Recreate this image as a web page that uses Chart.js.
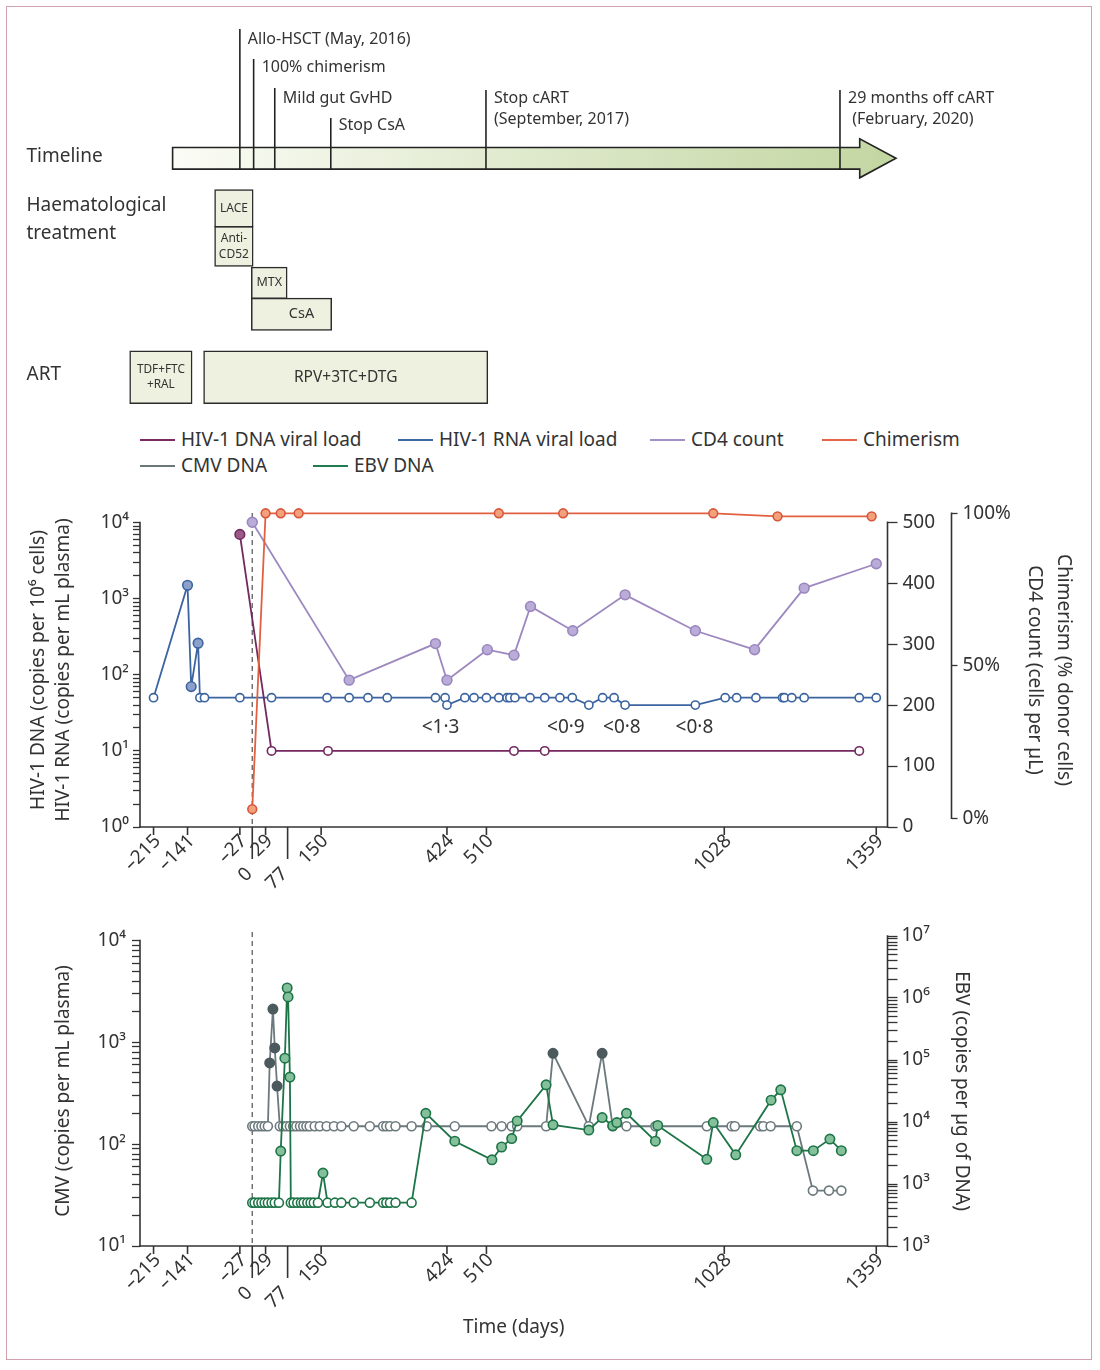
<!DOCTYPE html>
<html lang="en">
<head>
<meta charset="utf-8">
<title>HIV-1 case timeline</title>
<script src="https://cdn.jsdelivr.net/npm/chart.js@4.4.1/dist/chart.umd.min.js"></script>
<style>
  html, body { margin: 0; padding: 0; background: #fff; }
  body { position: relative; width: 1100px; height: 1370px; overflow: hidden;
         font-family: "Noto Sans", "DejaVu Sans", sans-serif; color: #333; }
  #frame { position: absolute; left: 6px; top: 6px; width: 1086px; height: 1354px;
           border: 1.5px solid #d3a0ae; box-sizing: border-box; }
  canvas { position: absolute; left: 0; }
  .key { position: absolute; font-size: 19px; line-height: 24px; white-space: nowrap; }
  .key i { display: inline-block; width: 35px; height: 2.5px; margin-right: 6px;
           vertical-align: middle; position: relative; top: -1px; }
</style>
</head>
<body>
<div id="frame"></div>
<canvas id="timeline" width="1100" height="420" style="top:0"></canvas>
<div id="legend"></div>
<canvas id="upper" width="1100" height="420" style="top:480px"></canvas>
<canvas id="lower" width="1100" height="470" style="top:900px"></canvas>
<script>
// ---- data (days relative to allo-HSCT) ----
const xTickDays = [-215, -141, -27, 0, 29, 77, 150, 424, 510, 1028, 1359];
const longTickDays = [0, 77];

const eventDays = [-27, 3, 49, 171, 509, 1280];
const eventLabels = [
  ['Allo-HSCT (May, 2016)'], ['100% chimerism'], ['Mild gut GvHD'], ['Stop CsA'],
  ['Stop cART', '(September, 2017)'], ['29 months off cART', ' (February, 2020)']
];
const treatmentNames = [['LACE'], ['Anti-', 'CD52'], ['MTX'], ['CsA'], ['TDF+FTC', '+RAL'], ['RPV+3TC+DTG']];
const treatmentStart = [-82, -82, -2, -2, -267, -106];
const treatmentEnd = [2, 2, 76, 173, -131, 513];

const seriesNames = ['HIV-1 DNA viral load', 'HIV-1 RNA viral load', 'CD4 count', 'Chimerism', 'CMV DNA', 'EBV DNA'];

const dnaDays = [-27, 42, 165, 570, 637, 1322];
const dnaValues = [7000, 10, 10, 10, 10, 10];
const dnaDetected = [1, 0, 0, 0, 0, 0];

const rnaDays = [-215, -141, -133, -118, -114, -104, -27, 42, 163, 211,
  252, 294, 399, 420, 424, 463, 483, 510, 537, 555,
  561, 572, 605, 637, 670, 697, 733, 763, 788, 812,
  965, 1030, 1055, 1097, 1155, 1159, 1175, 1202, 1322, 1359];
const rnaValues = [50, 1500, 70, 260, 50, 50, 50, 50, 50, 50,
  50, 50, 50, 50, 40, 50, 50, 50, 50, 50,
  50, 50, 50, 50, 50, 50, 40, 50, 50, 40,
  40, 50, 50, 50, 50, 50, 50, 50, 50, 50];
const rnaDetected = [0, 1, 1, 1, 0, 0, 0, 0, 0, 0,
  0, 0, 0, 0, 0, 0, 0, 0, 0, 0,
  0, 0, 0, 0, 0, 0, 0, 0, 0, 0,
  0, 0, 0, 0, 0, 0, 0, 0, 0, 0];
const rnaNoteDays = [410, 683, 805, 963];
const rnaNoteText = ['<1·3', '<0·9', '<0·8', '<0·8'];
const rnaNoteLevel = 20.4;

const cd4Days = [0, 211, 399, 424, 512, 570, 606, 698, 812, 965, 1094, 1202, 1359];
const cd4Values = [500, 241, 301, 241, 291, 282, 362, 322, 381, 322, 291, 392, 432];

const chimDays = [0, 29, 62, 101, 537, 677, 1004, 1144, 1349];
const chimValues = [3, 100, 100, 100, 100, 100, 100, 99, 99];

const cmvDays = [0, 5, 13, 20, 27, 34,
  38, 45, 49, 54,
  60, 67, 75, 82, 89, 96, 104, 111, 118, 125,
  136, 147, 162, 178, 194, 221, 256, 285, 292, 300,
  312, 347, 380, 441, 521, 543, 565, 577, 640,
  655, 733, 762,
  785, 815, 878, 990, 1044, 1051, 1106, 1113, 1129, 1186,
  1221, 1256, 1283];
const cmvValues = [150, 150, 150, 150, 150, 150,
  627, 2120, 880, 372,
  150, 150, 150, 150, 150, 150, 150, 150, 150, 150,
  150, 150, 150, 150, 150, 150, 150, 150, 150, 150,
  150, 150, 150, 150, 150, 150, 150, 150, 150,
  780, 150, 780,
  150, 150, 150, 150, 150, 150, 150, 150, 150, 150,
  35, 35, 35];
const cmvDetected = [0, 0, 0, 0, 0, 0,
  1, 1, 1, 1,
  0, 0, 0, 0, 0, 0, 0, 0, 0, 0,
  0, 0, 0, 0, 0, 0, 0, 0, 0, 0,
  0, 0, 0, 0, 0, 0, 0, 0, 0,
  1, 0, 1,
  0, 0, 0, 0, 0, 0, 0, 0, 0, 0,
  0, 0, 0];

const ebvDays = [0, 5, 13, 20, 27, 34, 42, 49, 58,
  62, 71, 76, 78, 82,
  84, 90, 98, 106, 112, 120, 127, 134, 143,
  154,
  164, 180, 194, 221, 256, 285, 292, 300, 312, 347,
  378, 441, 522, 543, 565, 577, 640, 655, 733, 762, 785, 794,
  815, 878, 883, 990, 1004, 1053, 1130, 1151, 1186, 1222, 1258, 1283];
const ebvValues = [500, 500, 500, 500, 500, 500, 500, 500, 500,
  3400, 107000, 1450000, 1040000, 53000,
  500, 500, 500, 500, 500, 500, 500, 500, 500,
  1500,
  500, 500, 500, 500, 500, 500, 500, 500, 500, 500,
  13800, 4900, 2450, 3950, 5400, 10400, 39700, 9000, 7400, 11800, 8700, 9800,
  13800, 4900, 8800, 2500, 9800, 2950, 22500, 33000, 3450, 3450, 5300, 3450];
const ebvDetected = [0, 0, 0, 0, 0, 0, 0, 0, 0,
  1, 1, 1, 1, 1,
  0, 0, 0, 0, 0, 0, 0, 0, 0,
  1,
  0, 0, 0, 0, 0, 0, 0, 0, 0, 0,
  1, 1, 1, 1, 1, 1, 1, 1, 1, 1, 1, 1,
  1, 1, 1, 1, 1, 1, 1, 1, 1, 1, 1, 1];

// tick labels by power of ten
const hivTickLabels = ['10⁰', '10¹', '10²', '10³', '10⁴'];
const cmvTickLabels = ['', '10¹', '10²', '10³', '10⁴'];
const ebvTickLabels = ['', '', '10³', '10³', '10⁴', '10⁵', '10⁶', '10⁷'];
const cd4Ticks = [0, 100, 200, 300, 400, 500];
const chimTicks = [0, 50, 100];

// ---- layout ----
const FONT = '"Noto Sans", "DejaVu Sans", sans-serif';
const INK = '#333';
const X_MIN = -244.5, X_MAX = 1383.5;
const PLOT_LEFT = 140, PLOT_RIGHT = 887.5, PAGE_W = 1100;

const arrowStartDay = -173.5, arrowNeckDay = 1323, arrowTipDay = 1402;
const eventLineTop = [29, 59, 88, 118, 90, 90];
const eventLabelY = [39, 67, 98, 125, 98, 98];
const rowHeadings = [['Timeline', 157], ['Haematological', 206], ['treatment', 234], ['ART', 375]];
const tlRowCenter = [208.4, 246.4, 282.8, 314.2, 377.2, 377.2];
const tlRowHeight = [37.4, 40, 31.5, 32.2, 52.8, 52.8];
const tlTextSize = [12, 12, 12.5, 14.5, 11.8, 15.5];
const tlTextShift = [0, 0, 0, 10, 0, 0];

const legendColors = ['#7a2c62', '#3f67a1', '#a290c6', '#e2654a', '#6b787b', '#1f7c4f'];
const legendLeft = [140, 398, 650, 822, 140, 313];
const legendTop = [427, 427, 427, 427, 453, 453];

Chart.defaults.font.family = FONT;
Chart.defaults.color = INK;
Chart.defaults.animation = false;

function decadeTicks(lo, hi) {
  const t = [];
  for (let e = lo; e < hi; e++) {
    for (let k = 1; k < 10; k++) t.push({ value: k * Math.pow(10, e) });
  }
  t.push({ value: Math.pow(10, hi) });
  return t;
}
function exactDecade(v) {
  const e = Math.log10(v), r = Math.round(e);
  return Math.abs(e - r) < 1e-6 ? r : null;
}
function tickText(d) {
  return d < 0 ? '–' + Math.abs(d) : String(d);
}

// ---- timeline ----
const timelinePlugin = {
  id: 'timelineArt',
  beforeDatasetsDraw(chart) {
    const { ctx, scales: { x } } = chart;
    const x0 = x.getPixelForValue(arrowStartDay);
    const x1 = x.getPixelForValue(arrowNeckDay);
    const x2 = x.getPixelForValue(arrowTipDay);
    const cy = 158.3, bh = 10.8, hh = 19.5;
    const grad = ctx.createLinearGradient(x0, 0, x2, 0);
    grad.addColorStop(0, '#fbfcf6');
    grad.addColorStop(1, '#c2d6a1');
    ctx.save();
    ctx.beginPath();
    ctx.moveTo(x0, cy - bh);
    ctx.lineTo(x1, cy - bh);
    ctx.lineTo(x1, cy - hh);
    ctx.lineTo(x2, cy);
    ctx.lineTo(x1, cy + hh);
    ctx.lineTo(x1, cy + bh);
    ctx.lineTo(x0, cy + bh);
    ctx.closePath();
    ctx.fillStyle = grad;
    ctx.fill();
    ctx.lineWidth = 1.6;
    ctx.strokeStyle = '#222';
    ctx.stroke();

    ctx.font = '16px ' + FONT;
    ctx.fillStyle = INK;
    ctx.textBaseline = 'middle';
    ctx.textAlign = 'left';
    eventDays.forEach((d, i) => {
      const px = x.getPixelForValue(d);
      ctx.beginPath();
      ctx.moveTo(px, eventLineTop[i]);
      ctx.lineTo(px, cy + bh);
      ctx.stroke();
      eventLabels[i].forEach((t, j) => ctx.fillText(t, px + 8, eventLabelY[i] + j * 21));
    });

    ctx.font = '19px ' + FONT;
    rowHeadings.forEach(([t, y]) => ctx.fillText(t, 26.5, y));
    ctx.restore();
  },
  afterDatasetsDraw(chart) {
    const ctx = chart.ctx;
    ctx.save();
    ctx.fillStyle = INK;
    ctx.textAlign = 'center';
    ctx.textBaseline = 'middle';
    treatmentNames.forEach((lines, i) => {
      const el = chart.getDatasetMeta(i).data[0];
      const cx = (el.x + el.base) / 2 + tlTextShift[i];
      ctx.font = tlTextSize[i] + 'px ' + FONT;
      const y0 = el.y - (lines.length - 1) * 7.75;
      lines.forEach((t, j) => ctx.fillText(t, cx, y0 + j * 15.5));
    });
    ctx.restore();
  }
};

new Chart(document.getElementById('timeline'), {
  type: 'bar',
  data: {
    datasets: treatmentNames.map((name, i) => ({
      label: name.join(''),
      data: [{ x: [treatmentStart[i], treatmentEnd[i]], y: tlRowCenter[i] }],
      stack: 'treatments',
      barThickness: tlRowHeight[i],
      backgroundColor: '#eef1df',
      borderColor: '#2b2b2b',
      borderWidth: 1.5,
      borderSkipped: false,
      clip: false
    }))
  },
  options: {
    indexAxis: 'y',
    responsive: false,
    events: [],
    layout: { padding: { left: PLOT_LEFT, right: PAGE_W - PLOT_RIGHT, top: 0, bottom: 0 } },
    scales: {
      x: { type: 'linear', min: X_MIN, max: X_MAX, stacked: false, display: false },
      y: { type: 'linear', min: 0, max: 420, reverse: true, offset: false, display: false }
    },
    plugins: { legend: { display: false }, tooltip: { enabled: false } }
  },
  plugins: [timelinePlugin]
});

// ---- legend ----
const legendBox = document.getElementById('legend');
seriesNames.forEach((name, i) => {
  const el = document.createElement('div');
  el.className = 'key';
  el.style.left = legendLeft[i] + 'px';
  el.style.top = legendTop[i] + 'px';
  el.innerHTML = '<i style="background:' + legendColors[i] + '"></i>' + name;
  legendBox.appendChild(el);
});

// ---- shared axis drawing for the two data panels ----
const axesPlugin = {
  id: 'axesArt',
  beforeDatasetsDraw(chart, args, opts) {
    const { ctx, chartArea: a, scales: { x } } = chart;
    const px = x.getPixelForValue(0);
    ctx.save();
    ctx.strokeStyle = '#6a6a6a';
    ctx.lineWidth = 1.4;
    ctx.setLineDash([5, 4]);
    ctx.beginPath();
    ctx.moveTo(px, a.top - opts.dashAbove);
    ctx.lineTo(px, a.bottom);
    ctx.stroke();
    ctx.restore();
  },
  afterDatasetsDraw(chart, args, opts) {
    const { ctx, scales } = chart;
    if (!opts.notes) return;
    ctx.save();
    ctx.font = '19px ' + FONT;
    ctx.fillStyle = INK;
    ctx.textAlign = 'center';
    ctx.textBaseline = 'middle';
    opts.notes.days.forEach((d, i) => {
      ctx.fillText(opts.notes.text[i], scales.x.getPixelForValue(d), scales[opts.notes.axis].getPixelForValue(opts.notes.level));
    });
    ctx.restore();
  },
  afterDraw(chart, args, opts) {
    const { ctx, chartArea: a, scales } = chart;
    const x = scales.x;
    ctx.save();
    ctx.strokeStyle = INK;
    ctx.lineWidth = 1.6;
    opts.spines.forEach(([id, lo, hi]) => {
      const s = scales[id];
      const sx = s.position === 'left' ? s.right : s.left;
      ctx.beginPath();
      ctx.moveTo(sx, s.getPixelForValue(lo) + 0.8);
      ctx.lineTo(sx, s.getPixelForValue(hi) - 0.8);
      ctx.stroke();
    });
    ctx.beginPath();
    ctx.moveTo(a.left - 0.8, a.bottom);
    ctx.lineTo(a.right + 0.8, a.bottom);
    ctx.stroke();

    ctx.font = '19px ' + FONT;
    ctx.fillStyle = INK;
    ctx.textAlign = 'right';
    ctx.textBaseline = 'middle';
    xTickDays.forEach(d => {
      const px = x.getPixelForValue(d);
      const long = longTickDays.includes(d);
      ctx.beginPath();
      ctx.moveTo(px, a.bottom);
      ctx.lineTo(px, a.bottom + (long ? 32 : 8));
      ctx.stroke();
      ctx.save();
      ctx.translate(px + (long ? -3 : 4), a.bottom + (long ? 44 : 11));
      ctx.rotate(-Math.PI / 4);
      ctx.fillText(tickText(d), 0, 0);
      ctx.restore();
    });
    ctx.restore();
  }
};

function lineSeries(o) {
  const filled = i => !o.detected || o.detected[i] === 1;
  return {
    label: o.label,
    data: o.days.map((d, i) => ({ x: d, y: o.values[i] })),
    yAxisID: o.axis,
    order: o.order,
    borderColor: o.line,
    borderWidth: 1.8,
    tension: 0,
    clip: false,
    pointRadius: c => filled(c.dataIndex) ? o.rFilled : o.rOpen,
    pointBorderWidth: 1.6,
    pointBorderColor: c => filled(c.dataIndex) ? (o.edge || o.line) : o.line,
    pointBackgroundColor: c => filled(c.dataIndex) ? o.fill : '#fff'
  };
}

function logAxis(pos, lo, max, labels, width, tickLen, pad) {
  return {
    type: 'logarithmic', position: pos, min: Math.pow(10, lo), max: max,
    afterBuildTicks: s => { s.ticks = decadeTicks(lo, Math.floor(Math.log10(max) + 1e-9)); },
    afterFit: s => { s.width = width; },
    border: { display: false },
    grid: { drawOnChartArea: false, tickLength: tickLen, tickColor: INK, tickWidth: 1.3 },
    ticks: {
      autoSkip: false, padding: pad, font: { size: 19 }, color: INK,
      callback: v => { const e = exactDecade(v); return e === null ? '' : labels[e]; }
    }
  };
}

// ---- HIV / CD4 / chimerism panel ----
const hivAxis = logAxis('left', 0, 13370, hivTickLabels, PLOT_LEFT, 7, 4);
hivAxis.title = {
  display: true, color: INK,
  text: ['HIV-1 DNA (copies per 10⁶ cells)', 'HIV-1 RNA (copies per mL plasma)'],
  font: { size: 19, lineHeight: 1.32 }, padding: { top: 25.8, bottom: 0 }
};

new Chart(document.getElementById('upper'), {
  type: 'line',
  data: {
    datasets: [
      lineSeries({ label: seriesNames[3], days: chimDays, values: chimValues, axis: 'yChim', order: 0,
        line: '#e2603f', fill: '#f2a17c', edge: '#d9553a', rFilled: 4.4, rOpen: 4.4 }),
      lineSeries({ label: seriesNames[0], days: dnaDays, values: dnaValues, detected: dnaDetected, axis: 'yLog', order: 1,
        line: '#73295f', fill: '#9a5a89', rFilled: 4.8, rOpen: 4.2 }),
      lineSeries({ label: seriesNames[1], days: rnaDays, values: rnaValues, detected: rnaDetected, axis: 'yLog', order: 2,
        line: '#3b64a0', fill: '#8ba0cb', rFilled: 4.8, rOpen: 4.1 }),
      lineSeries({ label: seriesNames[2], days: cd4Days, values: cd4Values, axis: 'yCd4', order: 3,
        line: '#9d89c0', fill: '#baacd8', edge: '#9a86bf', rFilled: 4.9, rOpen: 4.9 })
    ]
  },
  options: {
    responsive: false,
    events: [],
    layout: { padding: { left: 0, right: 0, top: 33, bottom: 73 } },
    scales: {
      x: { type: 'linear', min: X_MIN, max: X_MAX, display: false },
      yLog: hivAxis,
      yCd4: {
        type: 'linear', position: 'right', weight: 0, min: 0, max: 515.3,
        afterBuildTicks: s => { s.ticks = cd4Ticks.map(v => ({ value: v })); },
        afterFit: s => { s.width = 64; },
        border: { display: false },
        grid: { drawOnChartArea: false, tickLength: 10, tickColor: INK, tickWidth: 1.3 },
        ticks: { autoSkip: false, padding: 5, font: { size: 19 }, color: INK, callback: v => String(v) }
      },
      yChim: {
        type: 'linear', position: 'right', weight: 1, min: -2.85, max: 100.1,
        afterBuildTicks: s => { s.ticks = chimTicks.map(v => ({ value: v })); },
        afterFit: s => { s.width = PAGE_W - PLOT_RIGHT - 64; },
        border: { display: false },
        grid: { drawOnChartArea: false, tickLength: 6, tickColor: INK, tickWidth: 1.3 },
        ticks: { autoSkip: false, padding: 5, font: { size: 19 }, color: INK, callback: v => v + '%' },
        title: {
          display: true, color: INK,
          text: ['Chimerism (% donor cells)', 'CD4 count (cells per µL)'],
          font: { size: 19, lineHeight: 1.53 }, padding: { top: 22.2, bottom: 0 }
        }
      }
    },
    plugins: {
      legend: { display: false },
      tooltip: { enabled: false },
      axesArt: {
        dashAbove: 0,
        spines: [['yLog', 1, 1e4], ['yCd4', 0, 500], ['yChim', 0, 100]],
        notes: { days: rnaNoteDays, text: rnaNoteText, level: rnaNoteLevel, axis: 'yLog' }
      }
    }
  },
  plugins: [axesPlugin]
});

// ---- CMV / EBV panel ----
const cmvAxis = logAxis('left', 1, 11070, cmvTickLabels, PLOT_LEFT, 8, 6);
cmvAxis.title = {
  display: true, color: INK, text: 'CMV (copies per mL plasma)',
  font: { size: 19, lineHeight: 1.2 }, padding: { top: 51.9, bottom: 0 }
};
const ebvAxis = logAxis('right', 2, 1e7, ebvTickLabels, PAGE_W - PLOT_RIGHT, 10, 4);
ebvAxis.title = {
  display: true, color: INK, text: 'EBV (copies per µg of DNA)',
  font: { size: 19, lineHeight: 1.2 }, padding: { top: 126.9, bottom: 0 }
};

new Chart(document.getElementById('lower'), {
  type: 'line',
  data: {
    datasets: [
      lineSeries({ label: seriesNames[5], days: ebvDays, values: ebvValues, detected: ebvDetected, axis: 'yEbv', order: 0,
        line: '#1d7447', fill: '#84c09a', rFilled: 4.7, rOpen: 4.5 }),
      lineSeries({ label: seriesNames[4], days: cmvDays, values: cmvValues, detected: cmvDetected, axis: 'yCmv', order: 1,
        line: '#6c797c', fill: '#4c5a5e', edge: '#4c5a5e', rFilled: 4.7, rOpen: 4.5 })
    ]
  },
  options: {
    responsive: false,
    events: [],
    layout: { padding: { left: 0, right: 0, top: 36, bottom: 30.6 } },
    scales: {
      x: {
        type: 'linear', min: X_MIN, max: X_MAX,
        border: { display: false },
        grid: { display: false, drawTicks: false },
        ticks: { display: false },
        title: { display: true, text: 'Time (days)', color: INK, font: { size: 19, lineHeight: 1.2 }, padding: { top: 70.6, bottom: 0 } }
      },
      yCmv: cmvAxis,
      yEbv: ebvAxis
    },
    plugins: {
      legend: { display: false },
      tooltip: { enabled: false },
      axesArt: {
        dashAbove: 4,
        spines: [['yCmv', 10, 1e4], ['yEbv', 100, 1e7]]
      }
    }
  },
  plugins: [axesPlugin]
});
</script>
</body>
</html>
